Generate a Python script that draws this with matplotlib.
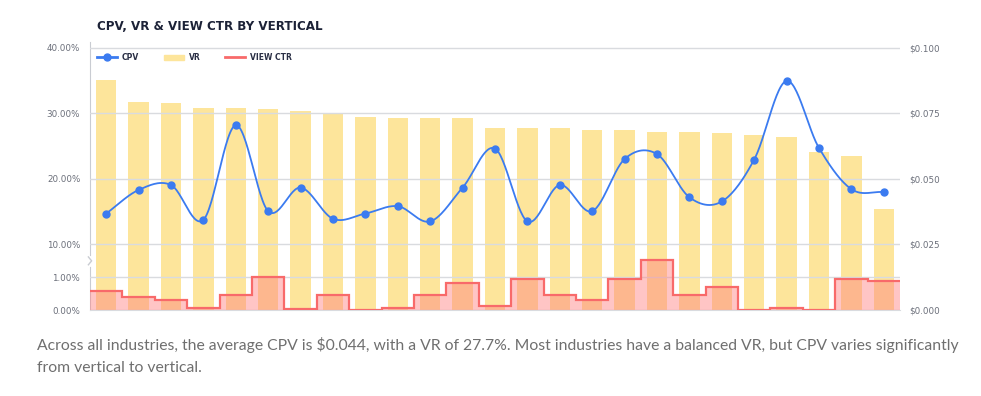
import numpy as np
import matplotlib.pyplot as plt
from matplotlib.lines import Line2D
from matplotlib.patches import Patch

# data (25 verticals)
vr = [35.1, 31.7, 31.6, 30.8, 30.8, 30.6, 30.4, 29.9, 29.4, 29.3, 29.3, 29.3, 27.8,
      27.8, 27.7, 27.5, 27.5, 27.2, 27.2, 27.0, 26.7, 26.4, 24.1, 23.5, 15.4]
cpv = [0.0368, 0.0458, 0.0477, 0.0344, 0.0705, 0.0377, 0.0467, 0.0348, 0.0368, 0.0396,
       0.0338, 0.0467, 0.0616, 0.0338, 0.0477, 0.0377, 0.0576, 0.0595, 0.0430, 0.0414,
       0.0574, 0.0874, 0.0618, 0.0461, 0.0450]
view_ctr = [0.58, 0.41, 0.29, 0.06, 0.47, 1.00, 0.03, 0.46, 0.01, 0.06, 0.46, 0.82, 0.13,
            0.94, 0.47, 0.29, 0.94, 1.52, 0.47, 0.71, 0.01, 0.06, 0.00, 0.94, 0.89]
left_ticks = [0, 1, 10, 20, 30, 40]
right_ticks = [0, 0.025, 0.05, 0.075, 0.1]

YELLOW = '#fde59b'
BLUE = '#3b7bf0'
RED = '#f86a6a'
GRID = '#d9dbdf'
TICK = '#6b6f7a'

# broken left scale: 0-1% -> 1 unit, 1-10% -> 1 unit, 10-40% -> 6 units
def fwd(v):
    v = np.asarray(v, dtype=float)
    return np.where(v <= 1, v, np.where(v <= 10, 1 + (v - 1) / 9, 2 + (v - 10) / 5))

def inv(u):
    u = np.asarray(u, dtype=float)
    return np.where(u <= 1, u, np.where(u <= 2, 1 + (u - 1) * 9, 10 + (u - 2) * 5))

top_units = 8.18
x = np.arange(len(vr))

fig = plt.figure(figsize=(9.81, 3.96), dpi=100)
ax = fig.add_axes([90 / 981, 86 / 396, 810 / 981, 268 / 396])
ax.set_yscale('function', functions=(fwd, inv))
ax.set_ylim(0, float(inv(top_units)))
ax.set_xlim(-0.5, len(vr) - 0.5)

ax.bar(x, vr, width=0.63, color=YELLOW, zorder=1)
ax.set_yticks(left_ticks)
ax.set_yticklabels(['%.2f%%' % t for t in left_ticks])
ax.set_xticks([])
ax.grid(axis='y', color=GRID, linewidth=1)
ax.set_axisbelow(False)
for s in ['top', 'right']:
    ax.spines[s].set_visible(False)
ax.spines['left'].set_color('#c9ccd2')
ax.spines['bottom'].set_color(GRID)
ax.tick_params(axis='y', length=0, pad=7, labelsize=6.3, labelcolor=TICK)

# axis break mark on the left spine
ax.plot([-0.5, -0.5], [float(inv(1.38)), float(inv(1.62))], color='white', lw=2,
        clip_on=False, zorder=5)
ax.plot([-0.55, -0.45, -0.55], [float(inv(1.62)), float(inv(1.5)), float(inv(1.38))],
        color='#c9ccd2', lw=1, clip_on=False, zorder=6)

# view ctr on its own linear axis (1% = 1 unit)
ax_ctr = ax.twinx()
ax_ctr.set_ylim(0, top_units)
edges = np.arange(len(view_ctr) + 1) - 0.5
ax_ctr.stairs(view_ctr, edges, fill=True, color='#ff8080', alpha=0.45, lw=0)
ax_ctr.stairs(view_ctr, edges, color=RED, lw=1.6, baseline=None)
ax_ctr.set_yticks([])
for s in ax_ctr.spines.values():
    s.set_visible(False)

# cpv on the right axis, smooth curve through points
ax_cpv = ax.twinx()
ax_cpv.set_ylim(0, 0.1 * top_units / 8)
ax_cpv.set_xlim(-0.5, len(vr) - 0.5)
y = np.array(cpv)
xs, ys = [], []
for i in range(len(y) - 1):
    p0 = y[max(i - 1, 0)]
    p1, p2 = y[i], y[i + 1]
    p3 = y[min(i + 2, len(y) - 1)]
    m1 = (p2 - p0) / (2 if 0 < i else 1)
    m2 = (p3 - p1) / (2 if i + 2 < len(y) else 1)
    t = np.linspace(0, 1, 30)
    h00 = 2 * t**3 - 3 * t**2 + 1
    h10 = t**3 - 2 * t**2 + t
    h01 = -2 * t**3 + 3 * t**2
    h11 = t**3 - t**2
    xs.extend(i + t)
    ys.extend(h00 * p1 + h10 * m1 + h01 * p2 + h11 * m2)
ax_cpv.plot(xs, ys, color=BLUE, lw=1.3, zorder=3)
ax_cpv.plot(x, cpv, 'o', color=BLUE, ms=5, zorder=4)
ax_cpv.set_yticks(right_ticks)
ax_cpv.set_yticklabels(['$%.3f' % t for t in right_ticks])
ax_cpv.tick_params(axis='y', length=0, pad=7, labelsize=6.3, labelcolor=TICK)
for s in ax_cpv.spines.values():
    s.set_visible(False)

handles = [Line2D([], [], color=BLUE, lw=2, marker='o', ms=5),
           Patch(color=YELLOW),
           Line2D([], [], color=RED, lw=2)]
ax_cpv.legend(handles, ['CPV', 'VR', 'VIEW CTR'], loc='upper left', ncol=3,
              bbox_to_anchor=(0.0, 0.985), frameon=False, handlelength=2.6,
              handleheight=0.6, columnspacing=3.2, handletextpad=0.7,
              prop={'size': 5.5, 'weight': 'bold'}, labelcolor='#2a2f45')

fig.text(97 / 981, 1 - 27 / 396, 'CPV, VR & VIEW CTR BY VERTICAL', fontsize=8.6,
         fontweight='bold', color='#1c2237', va='center', ha='left')
fig.text(37 / 981, 1 - 345 / 396,
         'Across all industries, the average CPV is $0.044, with a VR of 27.7%. '
         'Most industries have a balanced VR, but CPV varies significantly',
         fontsize=11.3, family='Lato', color='#6f6f6f', va='center', ha='left')
fig.text(37 / 981, 1 - 368 / 396, 'from vertical to vertical.',
         fontsize=11.3, family='Lato', color='#6f6f6f', va='center', ha='left')

fig.savefig('out.png', dpi=100)
